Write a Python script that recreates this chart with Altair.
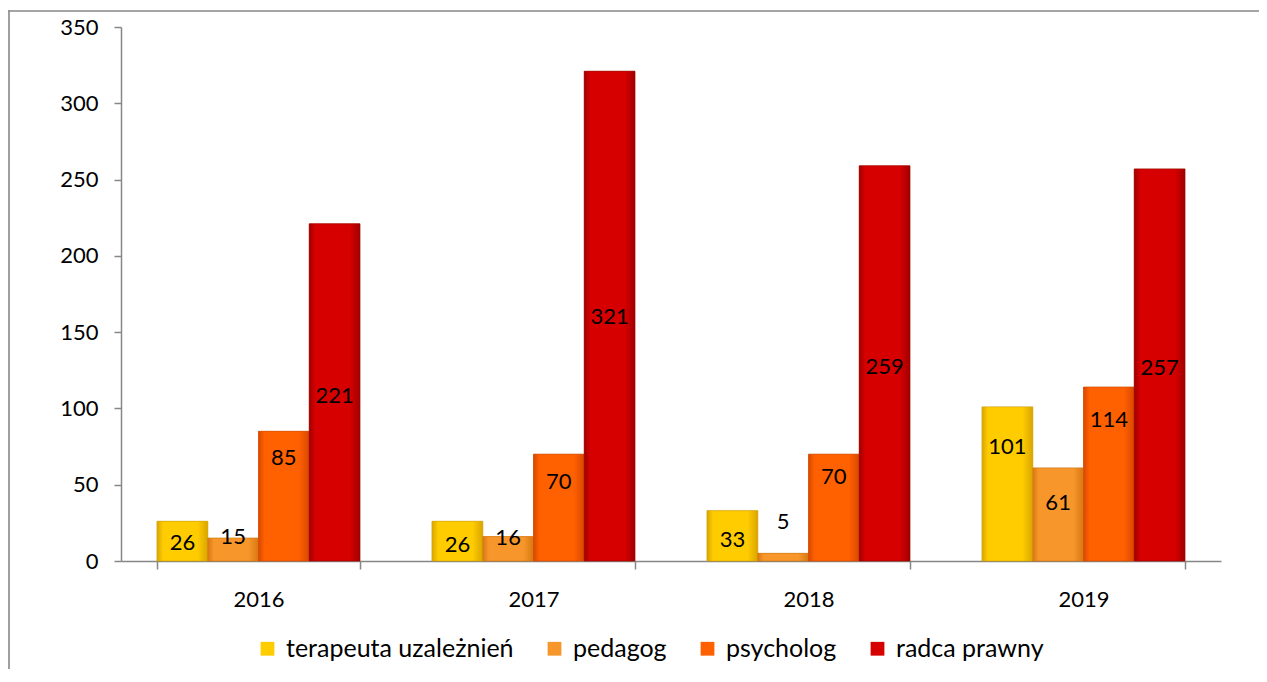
import altair as alt
import pandas as pd

years = ["2016", "2017", "2018", "2019"]
series = ["terapeuta uzależnień", "pedagog", "psycholog", "radca prawny"]
terapeuta = [26, 26, 33, 101]
pedagog = [15, 16, 5, 61]
psycholog = [85, 70, 70, 114]
radca = [221, 321, 259, 257]
# label anchor heights (data units) as placed in the reference
terapeuta_lbl = [11.8, 10.5, 13.8, 74.9]
pedagog_lbl = [15.8, 15.1, 25.6, 38.1]
psycholog_lbl = [67.6, 51.9, 55.2, 92.6]
radca_lbl = [107.9, 159.6, 127.4, 126.7]

main_colors = ["#FFCC00", "#F7962A", "#FF6000", "#D60000"]
edge_colors = ["#D9A500", "#D87812", "#D84800", "#A00000"]

rows = []
for s, vals, lbls in zip(series, [terapeuta, pedagog, psycholog, radca],
                         [terapeuta_lbl, pedagog_lbl, psycholog_lbl, radca_lbl]):
    for y, v, l in zip(years, vals, lbls):
        rows.append({"year": y, "series": s, "value": v, "lbl": l})
df = pd.DataFrame(rows)

FONT = "Lato"
PAD_L, PAD_T, PAD_R, PAD_B = 113, 19, 38, 108
W, H = 1100, 534

x_enc = alt.X("year:N", sort=years, title=None,
              scale=alt.Scale(paddingInner=0.262, paddingOuter=0.131),
              axis=alt.Axis(labelAngle=0, tickBand="extent", tickSize=8,
                            labelPadding=20, domainColor="#878787",
                            tickColor="#878787", domainWidth=1.5, tickWidth=1.5,
                            labelFont=FONT, labelFontSize=22, labelColor="#000000"))
xo_enc = alt.XOffset("series:N", sort=series,
                     scale=alt.Scale(paddingInner=0, paddingOuter=0))
y_enc = alt.Y("value:Q", title=None,
              scale=alt.Scale(domain=[0, 350], nice=False),
              axis=alt.Axis(values=[0, 50, 100, 150, 200, 250, 300, 350],
                            grid=False, tickSize=7, labelPadding=16,
                            domainColor="#878787", tickColor="#878787",
                            domainWidth=1.5, tickWidth=1.5,
                            labelFont=FONT, labelFontSize=22, labelColor="#000000"))

base = alt.Chart(df)

bars = base.mark_bar(stroke="#8a6a00", strokeOpacity=0.25, strokeWidth=1).encode(
    x=x_enc, xOffset=xo_enc, y=y_enc,
    color=alt.Color("series:N", sort=series,
                    scale=alt.Scale(domain=series, range=main_colors),
                    legend=alt.Legend(title=None, orient="none", direction="horizontal",
                                      legendX=134, legendY=609, symbolType="square",
                                      symbolSize=190, symbolStrokeWidth=0,
                                      labelFont=FONT, labelFontSize=25, labelLimit=0,
                                      labelColor="#000000", labelOffset=6,
                                      columnPadding=28, padding=0)),
)

grad_layers = []
for s, mc, ec in zip(series, main_colors, edge_colors):
    grad = {
        "gradient": "linear", "x1": 0, "y1": 0, "x2": 1, "y2": 0,
        "stops": [
            {"offset": 0, "color": ec},
            {"offset": 0.12, "color": mc},
            {"offset": 0.8, "color": mc},
            {"offset": 1, "color": ec},
        ],
    }
    grad_layers.append(
        base.transform_filter(alt.datum.series == s)
        .mark_bar(fill=grad, stroke=ec, strokeWidth=1, strokeOpacity=0.6)
        .encode(x=alt.X("year:N", sort=years), xOffset=alt.XOffset("series:N", sort=series),
                y=alt.Y("value:Q"))
    )

labels = base.mark_text(font=FONT, fontSize=22, color="#000000", baseline="middle").encode(
    x=alt.X("year:N", sort=years),
    xOffset=alt.XOffset("series:N", sort=series),
    y=alt.Y("lbl:Q"),
    text=alt.Text("value:Q"),
)

# outer chart frame (left and top edges) drawn as thin filled strips
one = pd.DataFrame({"a": [0]})
frame_left = alt.Chart(one).mark_rect(fill="#878787", strokeWidth=0).encode(
    x=alt.value(-112.8), x2=alt.value(-111.2), y=alt.value(-16.8), y2=alt.value(H + PAD_B + 30)
)
frame_top = alt.Chart(one).mark_rect(fill="#878787", strokeWidth=0).encode(
    x=alt.value(-112.8), x2=alt.value(W + PAD_R + 30), y=alt.value(-16.8), y2=alt.value(-15.2)
)

chart = alt.layer(frame_left, frame_top, bars, *grad_layers, labels).properties(
    width=W, height=H,
    autosize=alt.AutoSizeParams(type="none"),
    padding={"left": PAD_L, "top": PAD_T, "right": PAD_R, "bottom": PAD_B},
).configure_view(stroke=None)

chart.save("out.html", embed_options={"renderer": "svg", "actions": False})
